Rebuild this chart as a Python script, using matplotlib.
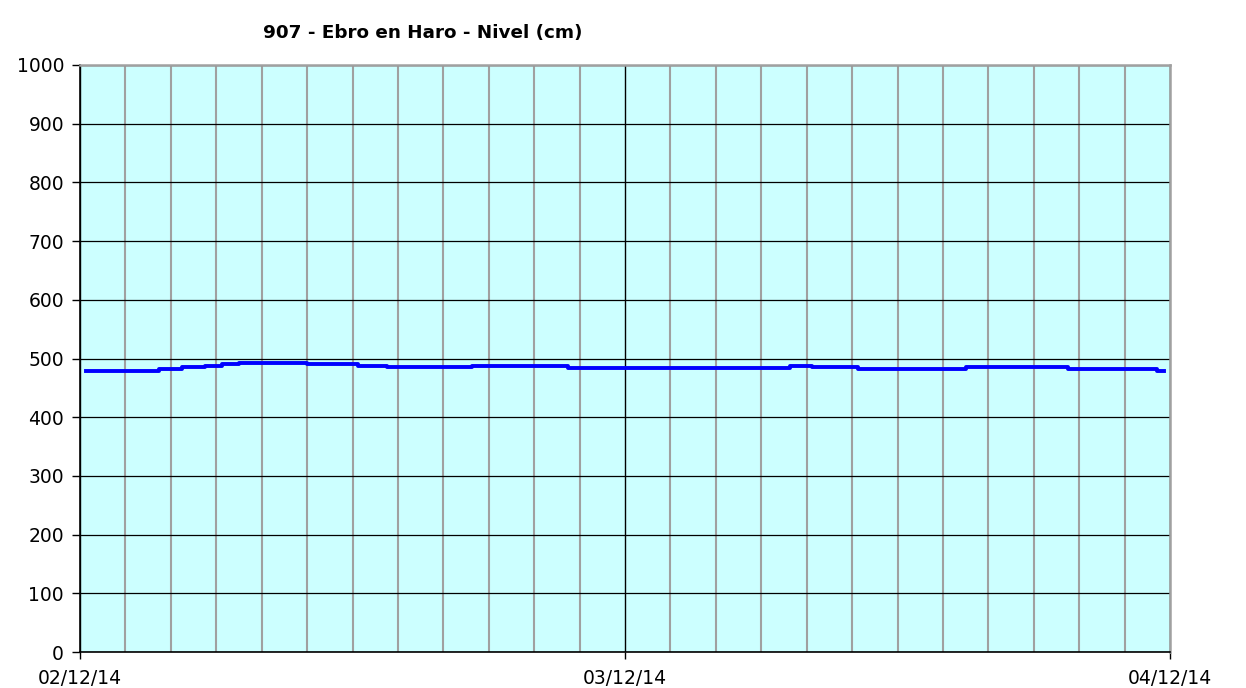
import pandas as pd
import matplotlib
matplotlib.use("Agg")
import matplotlib.pyplot as plt
import matplotlib.dates as mdates

TITLE = "907 - Ebro en Haro - Nivel (cm)"

# change points of the level record (step data)
times = [
    "2014-12-02 00:15", "2014-12-02 03:30", "2014-12-02 04:30", "2014-12-02 05:30",
    "2014-12-02 06:15", "2014-12-02 07:00", "2014-12-02 10:00", "2014-12-02 12:15",
    "2014-12-02 13:30", "2014-12-02 17:15", "2014-12-02 21:30", "2014-12-03 07:15",
    "2014-12-03 08:15", "2014-12-03 10:15", "2014-12-03 15:00", "2014-12-03 19:30",
    "2014-12-03 23:25", "2014-12-03 23:45",
]
levels = [478, 482, 485, 488, 491, 493, 491, 488, 485, 488, 484, 488,
          485, 482, 485, 482, 478, 478]

y_ticks = list(range(0, 1001, 100))
x_start = pd.Timestamp("2014-12-02 00:00")
x_end = pd.Timestamp("2014-12-04 00:00")

df = pd.DataFrame({"t": pd.to_datetime(times), "nivel": levels})

fig = plt.figure(figsize=(12.46, 6.88), dpi=100)
ax = fig.add_axes([80 / 1246, 36 / 688, 1090 / 1246, 587 / 688])
ax.set_facecolor("#CCFFFF")

ax.plot(df["t"], df["nivel"], drawstyle="steps-post", color="#0000FF", lw=2.8, zorder=3)

ax.set_xlim(x_start, x_end)
ax.set_ylim(0, 1000)
ax.set_yticks(y_ticks)

ax.xaxis.set_major_locator(mdates.DayLocator())
ax.xaxis.set_major_formatter(mdates.DateFormatter("%d/%m/%y"))
ax.xaxis.set_minor_locator(mdates.HourLocator(interval=2))

ax.grid(axis="x", which="minor", color="#A0A0A0", lw=1.5, zorder=1)
ax.grid(axis="x", which="major", color="black", lw=1.0, zorder=2)
ax.grid(axis="y", which="major", color="black", lw=0.9, zorder=2)
ax.set_axisbelow(True)

ax.tick_params(axis="x", which="minor", length=0)
ax.tick_params(axis="x", which="major", length=5, width=1, pad=7, labelsize=13.5)
ax.tick_params(axis="y", length=6, width=1, pad=5.5, labelsize=13.5)

for s in ["left", "bottom"]:
    ax.spines[s].set_color("black")
    ax.spines[s].set_linewidth(1.2)
for s in ["top", "right"]:
    ax.spines[s].set_color("#A0A0A0")
    ax.spines[s].set_linewidth(1.8)

fig.text(423 / 1246, 1 - 33 / 688, TITLE, ha="center", va="center",
         fontsize=13.2, fontweight="bold")

fig.savefig("out.png", dpi=100, facecolor="white")
